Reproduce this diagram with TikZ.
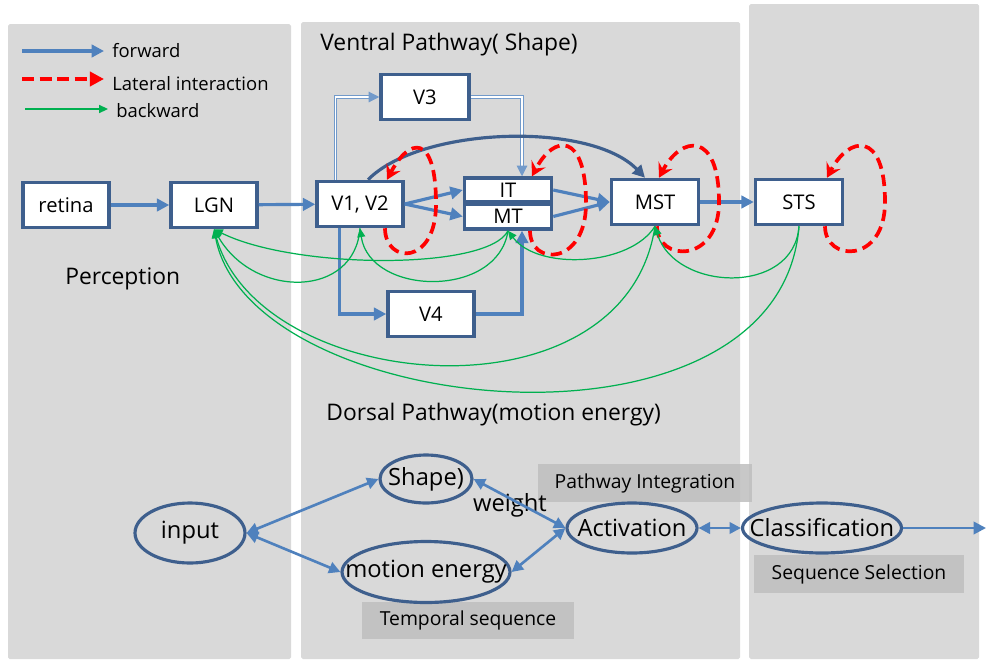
\documentclass[tikz,border=0pt]{standalone}
\usepackage{fontspec}
\setmainfont{Open Sans}
\usetikzlibrary{arrows.meta,calc,shapes.geometric}
\definecolor{panelgray}{HTML}{D9D9D9}
\definecolor{boxblue}{HTML}{3E5F8D}
\definecolor{fwdblue}{HTML}{4F81BD}
\definecolor{backgreen}{HTML}{00B050}
\definecolor{taggray}{HTML}{BFBFBF}
\begin{document}
\begin{tikzpicture}[x=0.02cm,y=-0.02cm,
  area/.style={fill=panelgray,rounded corners=1pt},
  region/.style={draw=boxblue,line width=2pt,fill=white,inner sep=0pt,
    minimum width=1.72cm,minimum height=0.9cm,font=\fontsize{11.5}{13}\selectfont},
  stage/.style={ellipse,draw=boxblue,line width=1.8pt,inner sep=0pt,
    label={[font=\fontsize{13.5}{16}\selectfont]center:#1}},
  tag/.style={fill=taggray,fill opacity=.85,text opacity=1,inner sep=0pt,
    font=\fontsize{11}{13}\selectfont},
  caption/.style={anchor=west,inner sep=0pt,font=\fontsize{13}{15}\selectfont},
  legend/.style={anchor=west,inner xsep=0.16cm,inner ysep=0pt,font=\fontsize{10.5}{12}\selectfont},
  forward/.style={draw=fwdblue,line width=1.8pt,-{Triangle[length=7pt,width=7pt]}},
  twoway/.style={draw=fwdblue,line width=1.5pt,
    {Triangle[length=6.5pt,width=6.5pt]}-{Triangle[length=6.5pt,width=6.5pt]}},
  thinpath/.style={draw=fwdblue!80,line width=0.6pt,double=white,double distance=0.8pt,
    -{Triangle[length=6pt,width=6pt]}},
  lateral/.style={draw=red,line width=2.1pt,dash pattern=on 6.5pt off 3.5pt,
    -{Stealth[length=8pt,width=9pt,inset=3pt]}},
  backward/.style={draw=backgreen,line width=0.7pt,-{Triangle[length=5pt,width=4.5pt]}}]

  \useasboundingbox[fill=white] (0,0) rectangle (986,659);
  \fill[area] (8,24) rectangle (291,659);
  \fill[area] (301,22) rectangle (740,659);
  \fill[area] (749,4) rectangle (979,659);

  % legend
  \node[legend] (fwdtext) at (104,51) {forward};
  \node[legend] (lattext) at (104,84) {Lateral interaction};
  \node[legend] (backtext) at (108,111) {backward};
  \coordinate (fwd0) at (22,51);
  \coordinate (lat0) at (22,79);
  \coordinate (back0) at (25,109);
  \draw[forward] (fwd0) -- (fwd0 -| fwdtext.west);
  \draw[lateral,dash pattern=on 7pt off 3pt,-{Triangle[length=8pt,width=8pt]}] (lat0) -- (lat0 -| lattext.west);
  \draw[backward,line width=1pt] (back0) -- (back0 -| backtext.west);

  \node[caption] (ventral) at (320,45) {Ventral Pathway( Shape)};
  \node[caption] (dorsal) at (326,415) {Dorsal Pathway(motion energy)};
  \node[caption] (percept) at (65,279) {Perception};

  % visual areas
  \node[region] (retina) at (66,205) {retina};
  \node[region] (lgn) at (214,205) {LGN};
  \node[region] (v12) at (360,204) {V1, V2};
  \node[region,minimum width=1.76cm] (v3) at (425,97) {V3};
  \node[region,minimum width=1.74cm,minimum height=0.48cm] (it) at (508,190) {IT};
  \node[region,minimum width=1.74cm,minimum height=0.5cm] (mt) at (508,216.5) {MT};
  \node[region,minimum width=1.74cm] (mst) at (655,202) {MST};
  \node[region,minimum width=1.74cm] (sts) at (799,202) {STS};
  \node[region] (v4) at (431,314) {V4};

  \draw[forward] (retina) -- (lgn);
  \draw[forward] (lgn) -- (v12);
  \draw[forward] (v12.east) -- (it.west);
  \draw[forward] (v12.east) -- (mt.west);
  \draw[forward] (it.east) -- (mst.west);
  \draw[forward] (mt.east) -- (mst.west);
  \draw[forward] (mst) -- (sts);
  \draw[thinpath] ($(v12.north west)+(20,0)$) |- (v3);
  \draw[thinpath] (v3) -| ($(it.north)+(14,0)$);
  \draw[forward] ($(v12.south west)+(24,0)$) |- (v4);
  \draw[forward] (v4) -| ($(mt.south)+(14,0)$);
  \draw[forward,draw=boxblue] ($(v12.north)+(8,0)$) .. controls +(52,-53) and +(-55,-57) .. ($(mst.north)+(-10,0)$);

  % lateral loops
  \foreach \lo/\hi/\a/\r in {v12/v12/25/76,mt/it/22/78,mst/mst/2/64,sts/sts/26/86}
    \draw[lateral] ($(\lo.south)+(\a,0)$) .. controls +(0,36) and +(0,62)
      .. ($(\lo.south)!.5!(\hi.north)+(\r,0)$) .. controls +(0,-72) and +(22,-42)
      .. ($(\hi.north)+(\a+2,0)$);

  % feedback
  \draw[backward] (v12.south) .. controls +(-5,70) and +(40,70) .. (lgn.south);
  \draw[backward] (mt.south) .. controls +(-20,40) and +(80,40) .. (lgn.south);
  \draw[backward] (mt.south) .. controls +(-10,68) and +(10,68) .. (v12.south);
  \draw[backward] (mst.south) .. controls +(-25,40) and +(30,40) .. (mt.south);
  \draw[backward] (mst.south) .. controls +(-30,200) and +(46,165) .. (lgn.south);
  \draw[backward] (sts.south) .. controls +(-19,245) and +(36,190) .. (lgn.south);
  \draw[backward] (sts.south) .. controls +(-5,70) and +(20,65) .. (mst.south);

  % model
  \node[tag,minimum width=4.3cm,minimum height=0.76cm] (integ) at (645,483) {Pathway Integration};
  \node[tag,minimum width=4.2cm,minimum height=0.76cm] (seqsel) at (859,574) {Sequence Selection};
  \node[tag,minimum width=4.24cm,minimum height=0.74cm] (temporal) at (468,620) {Temporal sequence};

  \node[stage=input,minimum width=2.2cm,minimum height=1.2cm] (input) at (190,533) {};
  \node[stage=Shape),minimum width=1.84cm,minimum height=0.96cm] (shape) at (426,479) {};
  \node[stage=motion energy,minimum width=3.36cm,minimum height=1.22cm] (motion) at (426,572) {};
  \node[stage=Activation,minimum width=2.6cm,minimum height=1cm] (act) at (632,528) {};
  \node[stage=Classification,minimum width=3.18cm,minimum height=1cm] (cls) at (822,528) {};
  \node[font=\fontsize{13.5}{16}\selectfont] (weight) at (510,505) {weight};
  \coordinate (out) at (986,528);

  \draw[twoway] (input.east) -- (shape.west);
  \draw[twoway] (input.east) -- (motion.west);
  \draw[twoway] (shape.east) -- (act.west);
  \draw[twoway] (motion.east) -- (act.west);
  \draw[twoway] (act.east) -- (cls.west);
  \draw[forward,line width=1.5pt] (cls.east) -- (out);
\end{tikzpicture}
\end{document}
